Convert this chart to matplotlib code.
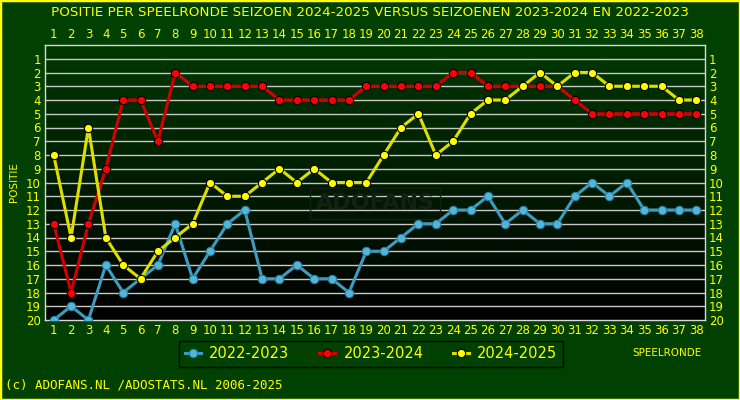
import numpy as np
import matplotlib
matplotlib.use("Agg")
import matplotlib.pyplot as plt

rondes = list(range(1, 39))
s2223 = [20, 19, 20, 16, 18, 17, 16, 13, 17, 15, 13, 12, 17, 17, 16, 17, 17, 18, 15, 15,
         14, 13, 13, 12, 12, 11, 13, 12, 13, 13, 11, 10, 11, 10, 12, 12, 12, 12]
s2324 = [13, 18, 13, 9, 4, 4, 7, 2, 3, 3, 3, 3, 3, 4, 4, 4, 4, 4, 3, 3,
         3, 3, 3, 2, 2, 3, 3, 3, 3, 3, 4, 5, 5, 5, 5, 5, 5, 5]
s2425 = [8, 14, 6, 14, 16, 17, 15, 14, 13, 10, 11, 11, 10, 9, 10, 9, 10, 10, 10, 8,
         6, 5, 8, 7, 5, 4, 4, 3, 2, 3, 2, 2, 3, 3, 3, 3, 4, 4]
labels = ["2022-2023", "2023-2024", "2024-2025"]
lijnkleur = ["#3d9cc0", "#d40000", "#dede00"]
puntkleur = ["#52b6dc", "#ff0000", "#ffff00"]

groen = "#004000"
geel = "#ffff00"

fig = plt.figure(figsize=(7.4, 4.0), dpi=100, facecolor=groen)
ax = fig.add_axes([45/740, 80/400, 660/740, 275/400])
ax.set_facecolor("black")

# verloop achtergrond
grad = np.linspace(0, 1, 256).reshape(-1, 1)
cm = matplotlib.colors.LinearSegmentedColormap.from_list("g", ["#003800", "#000000"])
ax.imshow(grad, aspect="auto", cmap=cm, extent=[0.5, 38.5, 20, 0], zorder=0)

for y in range(1, 20):
    ax.axhline(y, color="#c8c8c8", lw=1, zorder=1)

ax.text(19.5, 11.5, "ADOFANS", color="#142014", fontsize=16, fontweight="bold",
        ha="center", va="center", zorder=1,
        bbox=dict(facecolor="none", edgecolor="#142014", lw=1))

for data, lab, lk, pk in zip([s2223, s2324, s2425], labels, lijnkleur, puntkleur):
    mec = "black" if lab != "2022-2023" else "#2a7fa0"
    ax.plot(rondes, data, color=lk, lw=2.2, marker="o", ms=6, mfc=pk, mec=mec,
            mew=0.8, label=lab, zorder=3)

ax.set_xlim(0.5, 38.5)
ax.set_ylim(20, 0)
ax.set_xticks(rondes)
ax.set_yticks(range(1, 21))
ax.tick_params(axis="both", colors=geel, labelsize=8.5, length=0, pad=3,
               top=True, labeltop=True, right=True, labelright=True)
for sp in ax.spines.values():
    sp.set_color("#d8d8d8")
    sp.set_linewidth(1)

fig.text(0.5, 0.97, "POSITIE PER SPEELRONDE SEIZOEN 2024-2025 VERSUS SEIZOENEN 2023-2024 EN 2022-2023",
         color=geel, fontsize=9.7, ha="center", va="center")
fig.text(14/740, 1 - 182/400, "POSITIE", color=geel, fontsize=7.5, rotation=90,
         ha="center", va="center")
fig.text(667/740, 1 - 353/400, "SPEELRONDE", color=geel, fontsize=7.5,
         ha="center", va="center")
fig.text(5/740, 1 - 385/400, "(c) ADOFANS.NL /ADOSTATS.NL 2006-2025", color=geel,
         fontsize=9, family="DejaVu Sans Mono", ha="left", va="center")

leg = fig.legend(loc="center", bbox_to_anchor=(371/740, 1 - 354/400), ncol=3,
                 facecolor=groen, edgecolor="black", labelcolor=geel, fontsize=10.5,
                 framealpha=1, fancybox=False, handlelength=1.1, columnspacing=2.0,
                 borderpad=0.35, handletextpad=0.6)
leg.get_frame().set_linewidth(1)

fig.add_artist(plt.Rectangle((0, 0), 1, 1, transform=fig.transFigure, fill=False,
                             edgecolor=geel, lw=2.5))

plt.savefig("out.png", dpi=100, facecolor=groen)
